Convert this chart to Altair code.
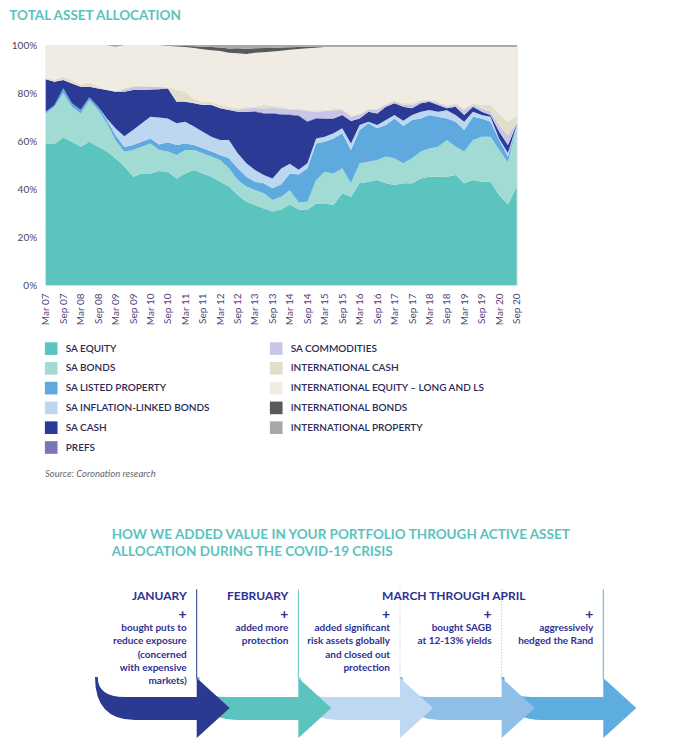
import altair as alt
import pandas as pd

# ---------------- data (% cumulative tops, quarterly) ----------------
quarters = pd.date_range("2007-03-01", "2020-09-01", freq="3MS")
dates = [d.strftime("%Y/%m/%d") for d in quarters]

sa_equity_top = [59.0, 58.8, 61.5, 59.7, 57.6, 59.7, 57.6, 55.6, 52.8, 49.5, 45.1, 46.5,
                 46.5, 47.5, 47.2, 44.4, 46.5, 47.9, 46.5, 45.1, 43.0, 41.0, 37.5, 34.7,
                 33.3, 31.9, 30.6, 31.5, 33.5, 31.5, 31.2, 34.0, 34.0, 33.3, 38.2, 36.8,
                 42.4, 43.0, 43.8, 42.4, 41.7, 42.4, 42.4, 44.4, 45.1, 45.1, 45.1, 45.8,
                 42.4, 43.8, 43.0, 43.0, 37.5, 33.5, 41.0]
sa_bonds_top = [71.5, 74.3, 80.0, 74.3, 71.5, 77.0, 72.9, 67.4, 60.4, 55.5, 56.2, 57.6,
                59.0, 56.2, 55.6, 54.2, 56.2, 56.2, 54.9, 53.5, 52.1, 48.6, 43.8, 41.0,
                39.6, 38.2, 35.4, 36.8, 39.5, 34.5, 34.7, 43.8, 47.2, 46.5, 48.6, 42.4,
                50.7, 51.4, 52.1, 53.5, 52.8, 50.7, 52.8, 55.6, 56.9, 57.6, 60.4, 57.6,
                55.6, 60.4, 61.8, 61.8, 56.5, 51.0, 66.0]
sa_property_top = [72.2, 75.0, 82.0, 75.7, 73.0, 78.2, 74.3, 68.8, 62.5, 57.5, 58.3, 59.7,
                   61.0, 58.5, 59.5, 58.3, 59.0, 58.3, 57.0, 55.6, 54.2, 52.8, 48.6, 45.1,
                   43.0, 42.4, 40.3, 42.0, 46.5, 46.0, 48.6, 59.0, 59.7, 61.0, 63.2, 56.2,
                   64.6, 67.4, 65.3, 66.7, 69.4, 66.3, 68.8, 69.4, 70.8, 70.1, 69.4, 68.0,
                   64.6, 70.1, 69.4, 68.0, 60.4, 53.5, 66.5]
sa_ilb_top = [72.2, 75.0, 82.0, 75.7, 73.0, 78.2, 74.3, 69.4, 65.3, 62.0, 64.6, 67.4,
              70.1, 69.8, 69.4, 67.4, 68.0, 66.0, 63.9, 61.8, 60.4, 60.4, 54.9, 50.7,
              47.9, 45.8, 44.4, 48.5, 50.5, 48.0, 50.7, 61.0, 61.8, 63.2, 65.3, 59.0,
              66.7, 68.0, 66.7, 68.8, 70.8, 68.4, 70.8, 72.2, 72.9, 72.2, 72.8, 70.8,
              68.0, 72.2, 70.8, 70.1, 61.0, 55.0, 66.7]
sa_cash_top = [85.7, 84.7, 85.4, 84.0, 82.6, 82.6, 81.9, 81.2, 80.5, 80.5, 81.2, 81.2,
               81.5, 81.6, 81.9, 76.4, 76.4, 75.7, 75.0, 75.0, 73.6, 72.9, 72.2, 72.2,
               72.2, 71.5, 71.5, 71.0, 70.8, 70.5, 68.0, 69.4, 69.4, 69.4, 70.8, 68.3,
               69.4, 72.2, 71.5, 74.3, 75.7, 74.3, 73.6, 75.7, 76.4, 75.0, 73.6, 74.3,
               70.8, 74.3, 72.2, 70.8, 64.0, 58.3, 67.0]
prefs_share = [0, 0, 0, 0, 0, 0, 0, 0, 0, 0, 0, 0,
               0, 0, 0, 0, 0, 0, 0, 0, 0, 0, 0, 0,
               0.3, 0.3, 0.3, 0.3, 0.3, 0.3, 0.3, 0.3, 0, 0, 0, 0,
               0, 0, 0, 0, 0, 0, 0, 0, 0, 0, 0, 0,
               0, 0, 0, 0, 0, 0, 0]
sa_commodities_top = [85.7, 84.7, 85.4, 84.0, 82.6, 82.6, 81.9, 81.2, 80.5, 81.5, 82.5, 82.6,
                      82.6, 82.5, 82.2, 76.6, 76.6, 75.9, 75.2, 75.2, 73.8, 73.3, 73.0, 73.5,
                      73.8, 73.5, 73.8, 73.6, 73.0, 73.0, 72.5, 72.2, 72.5, 72.8, 72.9, 70.1,
                      71.0, 72.9, 73.0, 75.0, 76.4, 75.0, 75.0, 76.4, 77.0, 75.7, 74.3, 75.0,
                      72.9, 75.0, 73.6, 72.2, 66.7, 62.5, 67.5]
intl_cash_top = [86.3, 85.5, 87.0, 85.3, 83.5, 84.5, 82.5, 81.6, 80.8, 82.0, 83.0, 83.0,
                 82.8, 82.7, 82.6, 81.2, 80.5, 77.5, 76.4, 76.4, 75.0, 74.3, 73.6, 74.3,
                 74.3, 75.0, 74.6, 74.3, 73.5, 73.5, 73.0, 72.7, 73.0, 73.3, 73.4, 70.6,
                 71.5, 73.4, 73.5, 75.5, 76.9, 75.7, 75.7, 77.0, 77.4, 76.4, 75.0, 75.7,
                 73.6, 75.7, 75.0, 75.0, 71.5, 68.0, 70.5]
intl_equity_top = [100, 100, 100, 100, 100, 100, 100, 100, 99.2, 100, 100, 100,
                   100, 100, 99.7, 99.4, 99.2, 98.8, 98.2, 97.8, 97.5, 96.8, 96.6, 96.2,
                   96.8, 97.0, 97.3, 97.6, 98.0, 98.3, 98.6, 98.9, 99.2, 99.2, 99.2, 99.2,
                   99.2, 99.2, 99.2, 99.2, 99.2, 99.2, 99.2, 99.2, 99.2, 99.2, 99.2, 99.2,
                   99.2, 99.2, 99.2, 99.2, 99.2, 99.2, 99.2]
intl_bonds_top = [100, 100, 100, 100, 100, 100, 100, 100, 99.2, 100, 100, 100,
                  100, 100, 99.85, 99.7, 99.6, 99.5, 99.3, 99.2, 99.0, 98.5, 98.6, 98.4,
                  98.6, 98.8, 98.8, 99.0, 99.1, 99.2, 99.3, 99.4, 99.4, 99.4, 99.4, 99.4,
                  99.4, 99.4, 99.4, 99.4, 99.4, 99.4, 99.4, 99.4, 99.4, 99.4, 99.4, 99.4,
                  99.4, 99.4, 99.4, 99.4, 99.4, 99.4, 99.4]
intl_property_top = [100] * len(dates)

# stacking order, bottom to top (also the legend order, filled column by column)
stack_series = ["SA EQUITY", "SA BONDS", "SA LISTED PROPERTY", "SA INFLATION-LINKED BONDS",
                "SA CASH", "PREFS", "SA COMMODITIES", "INTERNATIONAL CASH",
                "INTERNATIONAL EQUITY \u2013 LONG AND LS", "INTERNATIONAL BONDS",
                "INTERNATIONAL PROPERTY"]
stack_colors = ["#5cc4be", "#a2dad4", "#5eaade", "#bdd7f0", "#2b3a94", "#7876b6",
                "#c8c6e6", "#e3ddcc", "#f0ece3", "#58595b", "#a7a8ab"]
prefs_top = [c + p for c, p in zip(sa_cash_top, prefs_share)]
tops = [sa_equity_top, sa_bonds_top, sa_property_top, sa_ilb_top, sa_cash_top, prefs_top,
        sa_commodities_top, intl_cash_top, intl_equity_top, intl_bonds_top, intl_property_top]

rows = []
for i, d in enumerate(dates):
    prev = 0.0
    for k, name in enumerate(stack_series):
        top = tops[k][i]
        rows.append({"date": d, "series": name, "share": round(max(top - prev, 0), 3), "rank": k})
        prev = top
df = pd.DataFrame(rows)

tick_values = [alt.DateTime(year=y, month=m, date=1) for y in range(2007, 2021) for m in (3, 9)]
y_ticks = [0, 0.2, 0.4, 0.6, 0.8, 1.0]

# infographic data
step_pos = [1, 2, 3, 4, 5]
step_colors = ["#2b3990", "#5cc4be", "#bed8f1", "#8fbfe7", "#5eade0"]
rule_colors = ["#2b3990", "#5cc4be", "#9cc5ea", "#7fb5e3", "#5eade0"]
rule_dotted = [False, False, True, True, False]
step_text = ["bought puts to\nreduce exposure\n(concerned\nwith expensive\nmarkets)",
             "added more\nprotection",
             "added significant\nrisk assets globally\nand closed out\nprotection",
             "bought SAGB\nat 12-13% yields",
             "aggressively\nhedged the Rand"]
month_headers = ["JANUARY", "FEBRUARY"]
month_header_pos = [1, 2]
span_header = ["MARCH THROUGH APRIL"]
span_header_pos = [3.5]

FONT = "Lato"
NAVY = "#2e3192"
TEAL = "#5bc2bd"

# ---------------- main stacked area ----------------
area = alt.Chart(df).mark_area(interpolate="linear").encode(
    x=alt.X("date:T", title=None,
            scale=alt.Scale(domain=[alt.DateTime(year=2007, month=3, date=1),
                                    alt.DateTime(year=2020, month=9, date=1)]),
            axis=alt.Axis(values=tick_values, format="%b %y", labelAngle=-90, labelPadding=8,
                          ticks=False, domain=False, grid=False, labelFontSize=10,
                          labelFont=FONT, labelColor="#4e4277", labelOverlap=False)),
    y=alt.Y("share:Q", stack="normalize", title=None,
            scale=alt.Scale(domain=[0, 1], nice=False),
            axis=alt.Axis(values=y_ticks, format=".0%", ticks=False, domain=False, grid=False,
                          labelPadding=9, labelFontSize=10, labelFont=FONT,
                          labelColor="#4a4560")),
    color=alt.Color("series:N", scale=alt.Scale(domain=stack_series, range=stack_colors),
                    legend=alt.Legend(title=None, orient="none", legendX=-1, legendY=297,
                                      columns=2, columnPadding=59, rowPadding=6.8,
                                      symbolType="square", symbolSize=160,
                                      symbolStrokeWidth=0, symbolOpacity=1,
                                      labelFontSize=10, labelFont=FONT, labelFontWeight=600,
                                      labelColor="#2b2b55", labelOffset=8, padding=0,
                                      labelLimit=400)),
    order=alt.Order("rank:Q", sort="ascending"),
)

def text_layer(txt, x, y, **kw):
    return alt.Chart(pd.DataFrame({"t": [txt]})).mark_text(font=FONT, **kw).encode(
        x=alt.value(x), y=alt.value(y), text="t:N")

title_txt = text_layer("TOTAL ASSET ALLOCATION", -36.4, -25.3, align="left",
                       baseline="alphabetic", fontSize=13.5, fontWeight="bold", color=TEAL)
source_txt = text_layer("Source: Coronation research", -0.7, 431.5, align="left",
                        baseline="alphabetic", fontSize=9.5, fontStyle="italic", color="#666666")
heading_txt = text_layer("HOW WE ADDED VALUE IN YOUR PORTFOLIO THROUGH ACTIVE ASSET\nALLOCATION DURING THE COVID-19 CRISIS",
                         66, 493.9, align="left", baseline="alphabetic", fontSize=13.5,
                         fontWeight="bold", color=TEAL, lineBreak="\n", lineHeight=17)

def sx():
    return alt.X("pos:Q", scale=alt.Scale(domain=[1, 5], range=[151.0, 557.6]), axis=None)

steps_df = pd.DataFrame({"pos": step_pos, "color": step_colors, "rule": rule_colors,
                         "dotted": rule_dotted, "desc": step_text})

rules_solid = alt.Chart(steps_df[~steps_df["dotted"]]).mark_rule(strokeWidth=1).encode(
    x=sx(), y=alt.value(544.3), y2=alt.value(634), color=alt.Color("rule:N", scale=None))
rules_dot = alt.Chart(steps_df[steps_df["dotted"]]).mark_rule(strokeWidth=1, strokeDash=[1, 2]).encode(
    x=sx(), y=alt.value(544.3), y2=alt.value(634), color=alt.Color("rule:N", scale=None))

ARROW = "M-101.7,-31L-99,-31Q-99,-11,-72,-11L0,-11L0,-30L33,0L0,30L0,12L-62,12Q-101.7,12,-101.7,-31Z"
arrows = alt.Chart(steps_df.iloc[::-1]).mark_point(shape=ARROW, size=4, filled=True, opacity=1,
                                                   strokeWidth=0).encode(
    x=sx(), y=alt.value(663), color=alt.Color("color:N", scale=None),
    order=alt.Order("pos:Q", sort="descending"))

month_txt = alt.Chart(pd.DataFrame({"pos": month_header_pos, "t": month_headers})).mark_text(
    font=FONT, fontSize=12, fontWeight="bold", color=NAVY, align="right", baseline="alphabetic",
    dx=-10).encode(x=sx(), y=alt.value(555.3), text="t:N")
span_txt = alt.Chart(pd.DataFrame({"pos": span_header_pos, "t": span_header})).mark_text(
    font=FONT, fontSize=12, fontWeight="bold", color=NAVY, align="center", baseline="alphabetic",
    dx=3).encode(x=sx(), y=alt.value(555.3), text="t:N")
plus_txt = alt.Chart(steps_df).mark_text(
    font=FONT, fontSize=14, fontWeight="bold", color=NAVY, align="right", baseline="alphabetic",
    dx=-10).encode(x=sx(), y=alt.value(574), text=alt.value("+"))
desc_txt = alt.Chart(steps_df).mark_text(
    font=FONT, fontSize=10, fontWeight="bold", color=NAVY, align="right", baseline="alphabetic",
    dx=-10, lineBreak="\n", lineHeight=13.25).encode(x=sx(), y=alt.value(586), text="desc:N")

chart = alt.layer(area, title_txt, source_txt, heading_txt, rules_solid, rules_dot, arrows,
                  month_txt, span_txt, plus_txt, desc_txt).resolve_scale(
    x="independent", y="independent", color="independent"
).properties(
    width=471, height=240,
    autosize=alt.AutoSizeParams(type="none"),
    padding={"left": 37.7, "top": 37, "right": 148.3, "bottom": 456},
).configure_view(stroke=None).configure(font=FONT)

chart.save("out.html", embed_options={"renderer": "svg", "actions": False})
